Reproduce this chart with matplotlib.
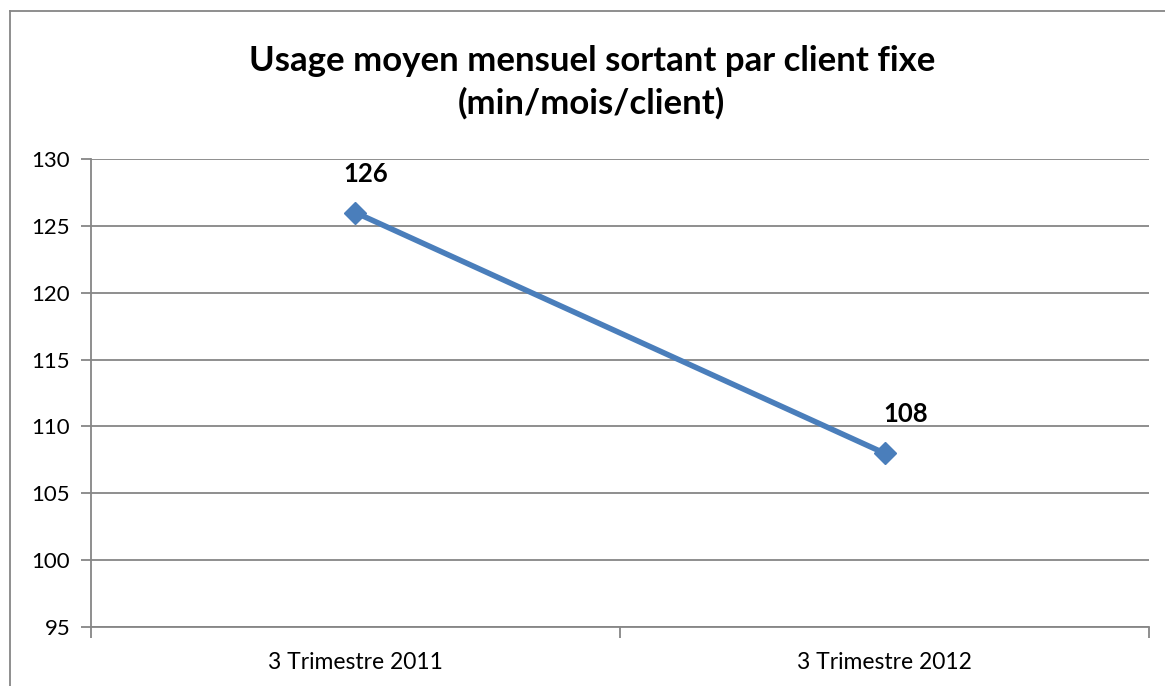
import matplotlib

matplotlib.use("Agg")
import matplotlib.pyplot as plt
from matplotlib.lines import Line2D

categories = ["3 Trimestre 2011", "3 Trimestre 2012"]
values = [126, 108]
y_ticks = [95, 100, 105, 110, 115, 120, 125, 130]
title = "Usage moyen mensuel sortant par client fixe\n(min/mois/client)"

plt.rcParams["font.family"] = ["Lato", "DejaVu Sans"]

GRID = "#868686"
LINE = "#4a7ebb"

fig = plt.figure(figsize=(11.65, 6.86), dpi=100)
ax = fig.add_axes([0.0781, 0.086, 0.9082, 0.682])

x = list(range(len(categories)))
ax.plot(x, values, color=LINE, linewidth=4, marker="D", markersize=11.5,
        markerfacecolor=LINE, markeredgecolor=LINE, solid_capstyle="round", zorder=3)

# Excel-style "above" data labels, nudged slightly right
label_dx = [7, 15]
for xi, v, dx in zip(x, values, label_dx):
    ax.annotate(str(v), (xi, v), xytext=(dx, 28), textcoords="offset points",
                ha="center", va="center", fontsize=18.5, fontweight="bold")

ax.set_xlim(-0.5, len(categories) - 0.5)
ax.set_ylim(y_ticks[0], y_ticks[-1])
ax.set_yticks(y_ticks)
ax.set_yticklabels([str(t) for t in y_ticks])
ax.set_xticks(x)
ax.set_xticklabels(categories)
ax.tick_params(axis="x", length=0, labelsize=16.5, pad=18)
ax.tick_params(axis="y", length=7, width=1.3, color=GRID, labelsize=16, pad=8)

# category boundary ticks
ax.set_xticks([i - 0.5 for i in range(len(categories) + 1)], minor=True)
ax.tick_params(axis="x", which="minor", length=8, width=1.3, color=GRID)

ax.grid(axis="y", color=GRID, linewidth=1.3)
ax.set_axisbelow(True)
for side in ("top", "right"):
    ax.spines[side].set_visible(False)
for side in ("left", "bottom"):
    ax.spines[side].set_color(GRID)
    ax.spines[side].set_linewidth(1.3)

fig.text(0.508, 0.880, title, ha="center", va="center", fontsize=25,
         fontweight="bold", linespacing=1.38)

# outer frame (left and top edges visible)
fig.add_artist(Line2D([10 / 1165, 10 / 1165], [0, 1 - 11 / 686], transform=fig.transFigure,
                      color=GRID, linewidth=1.3))
fig.add_artist(Line2D([10 / 1165, 1], [1 - 11 / 686, 1 - 11 / 686], transform=fig.transFigure,
                      color=GRID, linewidth=1.3))

fig.savefig("out.png", dpi=100)
